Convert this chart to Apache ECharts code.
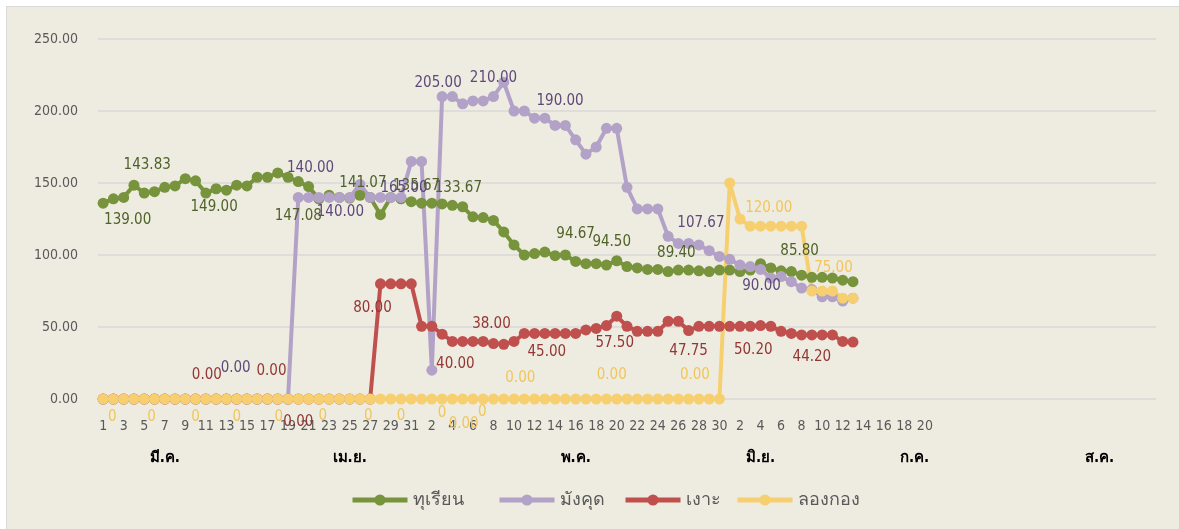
<!DOCTYPE html>
<html>
<head>
<meta charset="utf-8">
<script src="https://cdn.jsdelivr.net/npm/echarts@6/dist/echarts.min.js"></script>
<style>
  html, body { margin: 0; padding: 0; background: #fff; }
  #frame { position: absolute; left: 6px; top: 6px; width: 1180px; height: 530px; background: #EEECE1; border: 1px solid #D9D9D9; box-sizing: border-box; }
  #chart { position: absolute; left: 0; top: 0; width: 1179px; height: 529px; }
</style>
</head>
<body>
<div id="frame"></div>
<div id="chart"></div>
<script>
// day of month per category (มี.ค. 1-31, เม.ย. 1-30, then 1-20, then blanks)
const days = [
  1,2,3,4,5,6,7,8,9,10,11,12,13,14,15,16,17,18,19,20,21,22,23,24,25,26,27,28,29,30,31,
  1,2,3,4,5,6,7,8,9,10,11,12,13,14,15,16,17,18,19,20,21,22,23,24,25,26,27,28,29,30,
  1,2,3,4,5,6,7,8,9,10,11,12,13,14,15,16,17,18,19,20,
  '','','','','','','','','','','','','','','','','','','','','',''
];
// month name per category slot (outer level of the axis)
const monthAt = { 6: 'มี.ค.', 24: 'เม.ย.', 46: 'พ.ค.', 64: 'มิ.ย.', 79: 'ก.ค.', 97: 'ส.ค.' };

const names = ['ทุเรียน', 'มังคุด', 'เงาะ', 'ลองกอง'];

const durian = [136,139,140,148.5,143,144,147,148,153,151.5,143,146,145,148.5,148,154,154,157,154,151,
  147.5,139,141.5,140,139.5,141.5,140,128,140,139,137,136,136,135.5,134.5,133.5,126.5,126,124,116,
  107,100,101,102,99.5,100,95.5,94,94,93,96,92,91,90,90,88.5,89.5,89.5,89,88.5,
  89.5,89.5,88.5,89.5,94,91,89,88.5,86,84.5,84.5,84,82.5,81.5];
const mangosteen = [0,0,0,0,0,0,0,0,0,0,0,0,0,0,0,0,0,0,0,140,
  140,140,140,140,140,149,140,140,140,140,165,165,20,210,210,205,207,207,210,220,
  200,200,195,195,190,190,180,170,175,188,188,147,132,132,132,113,108,108,107,103,
  99,97,93,92,90,84,85,81.5,77,76,71,71,68,70];
const rambutan = [0,0,0,0,0,0,0,0,0,0,0,0,0,0,0,0,0,0,0,0,
  0,0,0,0,0,0,0,80,80,80,80,50.5,50.5,45,40,40,40,40,38.5,38,
  40,45.5,45.5,45.5,45.5,45.5,45.5,48,49,51,57.5,50.5,47,47,47,54,54,47.5,50.5,50.5,
  50.5,50.5,50.5,50.5,51,50.5,47,45.5,44.5,44.5,44.5,44.5,40,39.5];
const longkong = [0,0,0,0,0,0,0,0,0,0,0,0,0,0,0,0,0,0,0,0,
  0,0,0,0,0,0,0,0,0,0,0,0,0,0,0,0,0,0,0,0,
  0,0,0,0,0,0,0,0,0,0,0,0,0,0,0,0,0,0,0,0,
  0,150,125,120,120,120,120,120,120,75,75,75,70,70];

// data label texts by category index
const durianLabels = {2:'139.00', 4:'143.83', 11:'149.00', 19:'147.08', 25:'141.07', 31:'135.67',
  34:'133.67', 46:'94.67', 50:'94.50', 56:'89.40', 68:'85.80'};
const mangosteenLabels = {13:'0.00', 20:'140.00', 23:'140.00', 29:'165.00', 33:'205.00', 38:'210.00',
  44:'190.00', 58:'107.67', 64:'90.00'};
const rambutanLabels = {10:'0.00', 16:'0.00', 19:'0.00', 27:'80.00', 34:'40.00', 38:'38.00',
  43:'45.00', 50:'57.50', 57:'47.75', 63:'50.20', 69:'44.20'};
const longkongLabels = {1:'0', 5:'0', 9:'0', 13:'0', 17:'0', 21:'0', 26:'0', 29:'0', 33:'0', 35:'0.00',
  37:'0', 41:'0.00', 50:'0.00', 58:'0.00', 65:'120.00', 71:'75.00'};

// where each label sits relative to its point (px)
const labelShift = {
  durian: {2:[4,23], 4:[3,-28], 11:[-2,18], 19:[0,35], 25:[3,-12], 31:[-5,-17], 34:[6,-17],
    46:[0,-27], 50:[-5,-19], 56:[-2,-17], 68:[-2,-24]},
  mangosteen: {13:[-1,-31], 20:[2,-29], 23:[1,15], 29:[3,-9], 33:[-4,-13], 38:[0,-18],
    44:[5,-24], 58:[2,-22], 64:[1,17]},
  rambutan: {10:[1,-24], 16:[4,-28], 19:[0,23], 27:[-8,24], 34:[3,23], 38:[-2,-19],
    43:[2,19], 50:[-2,27], 57:[0,21], 63:[3,24], 69:[0,22]},
  longkong: {1:[-1,18], 5:[-3,18], 9:[0,18], 13:[0,18], 17:[1,18], 21:[4,17], 26:[-2,17], 29:[0,17],
    33:[0,14], 35:[1,25], 37:[-1,13], 41:[-4,-21], 50:[-5,-24], 58:[-4,-24], 65:[-2,-18], 71:[1,-23]}
};

const FONT = '"DejaVu Sans Condensed", "DejaVu Sans", sans-serif';
const colors = ['#77933C', '#B3A2C7', '#C0504D', '#F6CF70'];
const labelColors = ['#4F6228', '#5F497A', '#943634', '#F2C55C'];
const legendLeft = [345, 492, 618, 730];

function makeSeries(k, values, labels, shift) {
  return {
    name: names[k],
    type: 'line',
    symbol: 'circle',
    symbolSize: 11,
    showAllSymbol: true,
    lineStyle: { width: 4, color: colors[k] },
    itemStyle: { color: colors[k] },
    label: { show: false, position: 'inside', color: labelColors[k], fontSize: 15, fontFamily: FONT },
    data: values.map((v, i) => labels[i] !== undefined
      ? { value: v, label: { show: true, formatter: labels[i], offset: shift[i] } }
      : v)
  };
}

const chart = echarts.init(document.getElementById('chart'));
chart.setOption({
  animation: false,
  backgroundColor: 'transparent',
  grid: { left: 98, right: 23, top: 39, bottom: 130, containLabel: false },
  legend: names.map((n, k) => ({
    data: [n],
    left: legendLeft[k],
    top: 486,
    itemWidth: 55,
    itemHeight: 14,
    lineStyle: { width: 5 },
    textStyle: { fontSize: 18, color: '#595959', fontFamily: FONT }
  })),
  xAxis: [
    {
      type: 'category',
      data: days,
      axisLine: { show: false },
      axisTick: { show: false },
      axisLabel: { interval: 1, color: '#595959', fontSize: 14, margin: 20, fontFamily: FONT }
    },
    {
      type: 'category',
      data: days.map((d, i) => monthAt[i] || ''),
      position: 'bottom',
      axisLine: { show: false },
      axisTick: { show: false },
      axisLabel: { interval: 0, color: '#000', fontWeight: 'bold', fontSize: 15, margin: 52, fontFamily: FONT }
    }
  ],
  yAxis: {
    type: 'value',
    min: 0,
    max: 250,
    interval: 50,
    axisLine: { show: false },
    axisTick: { show: false },
    axisLabel: { formatter: v => v.toFixed(2), color: '#595959', fontSize: 14, margin: 20, fontFamily: FONT },
    splitLine: { lineStyle: { color: '#D9D9D9', width: 1.5 } }
  },
  series: [
    makeSeries(0, durian, durianLabels, labelShift.durian),
    makeSeries(1, mangosteen, mangosteenLabels, labelShift.mangosteen),
    makeSeries(2, rambutan, rambutanLabels, labelShift.rambutan),
    makeSeries(3, longkong, longkongLabels, labelShift.longkong)
  ]
});
</script>
</body>
</html>
